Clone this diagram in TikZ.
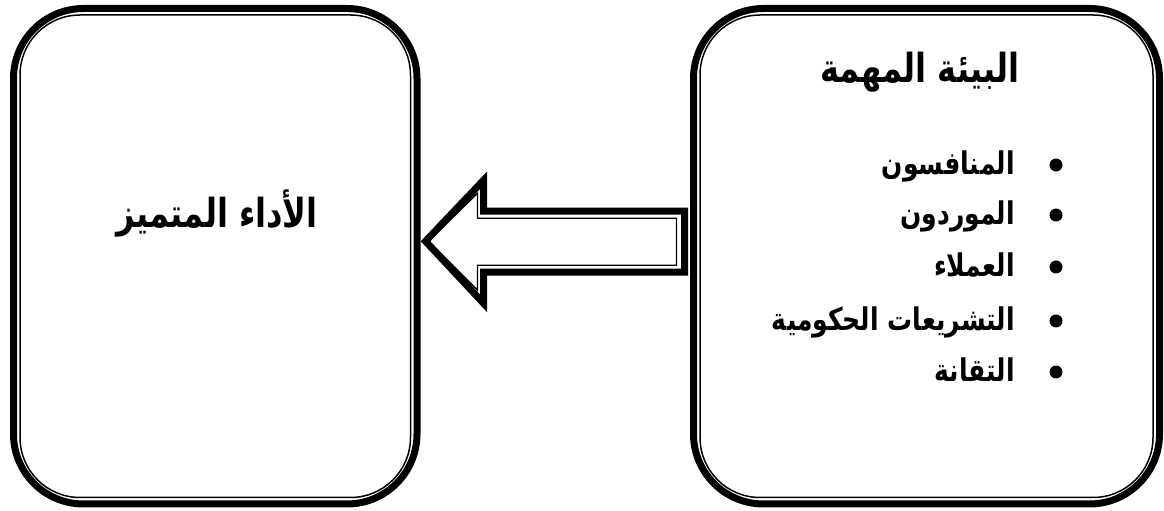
\documentclass[tikz,border=0pt]{standalone}
\usepackage{fontspec}
\newfontfamily\arabicfont[Script=Arabic]{DejaVu Sans}
\TeXXeTstate=1
\usetikzlibrary{positioning}
\newcommand\tallar[1]{\scalebox{1}[1.25]{\beginR #1\endR}}

\begin{document}
\begin{tikzpicture}[x=1pt, y=1pt,
    framebox/.style={draw, line width=7pt, rounded corners=70pt, minimum width=403.5pt, minimum height=495.5pt},
    innerline/.style={line width=1.5pt, rounded corners=60pt},
    arrowline/.style={line width=7pt, line join=miter, fill=white},
    arabtext/.style={font=\arabicfont\bfseries\fontsize{#1}{#1}\selectfont, inner sep=0pt},
    bullet/.style={circle, fill, inner sep=0pt, minimum size=13pt}]
    \useasboundingbox (0,0) rectangle (1164,511);

    % Les deux cadres
    \node[framebox] (perf) at (215.25, 254.75) {};
    \node[framebox, minimum width=466pt] (env) at (926.5, 254.75) {};
    \draw[innerline] ([shift={(10,-10)}]perf.north west) rectangle ([shift={(-10,10)}]perf.south east);
    \draw[innerline] ([shift={(10,-10)}]env.north west) rectangle ([shift={(-10,10)}]env.south east);

    % Flèche creuse
    \coordinate (tip) at ([yshift=15]perf.east);
    \draw[arrowline] ([xshift=5]tip) -- ++(58,61) -- ++(0,-31) -- ++(201,0) -- ++(0,-61) -- ++(-201,0) -- ++(0,-31) -- cycle;
    \draw[line width=1.4pt] ([xshift=8]tip) -- ++(49,48) -- ++(0,-25) -- ++(199,0) -- ++(0,-47) -- ++(-199,0) -- ++(0,-25) -- cycle;

    % Textes
    \node[arabtext=32, anchor=base] (perftxt) at (217, 283) {\tallar{الأداء المتميز}};
    \node[arabtext=32, anchor=base] (title) at (920, 428) {\tallar{البيئة المهمة}};

    \foreach \y/\name/\txt in {336/i1/المنافسون, 286/i2/الموردون, 234/i3/العملاء, 180/i4/التشريعات الحكومية, 129/i5/التقانة} {
        \node[bullet] (b\name) at (1056, \y+10) {};
        \node[arabtext=25, anchor=base east] (\name) at (1015, \y) {\tallar{\txt}};
    }
\end{tikzpicture}
\end{document}
